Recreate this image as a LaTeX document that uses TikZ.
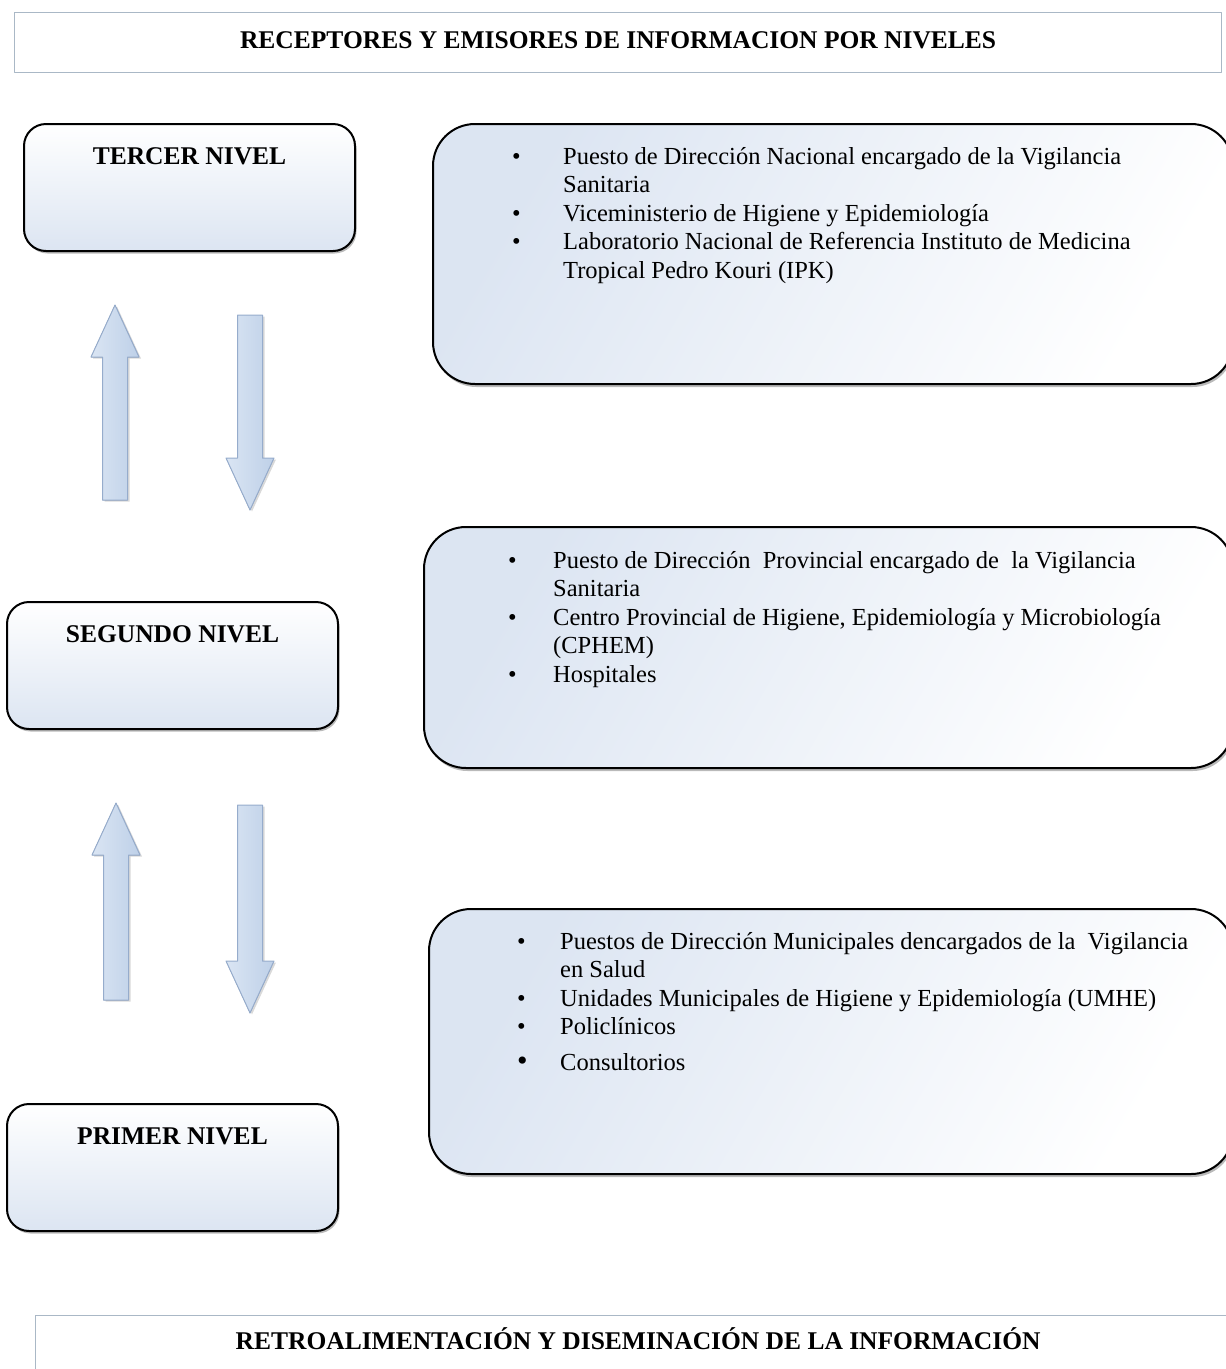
\documentclass[tikz,border=0pt]{standalone}
\usepackage{fontspec}
\setmainfont{Liberation Serif}
\usetikzlibrary{shadows}
\definecolor{boxblue}{RGB}{220,229,242}
\definecolor{arrowblue}{RGB}{190,208,232}
\definecolor{arrowlight}{RGB}{218,229,243}
\definecolor{arrowedge}{RGB}{150,172,204}
\definecolor{titleedge}{RGB}{170,184,198}
\tikzset{
	titlebox/.style={draw=titleedge, line width=1.3pt, fill=white, minimum height=60pt, text height=17pt, inner sep=0pt, font=\fontsize{25.5}{30}\selectfont\bfseries},
	levelbox/.style={draw=black, line width=2pt, rounded corners=22pt, top color=white, bottom color=boxblue, minimum width=331pt, text height=17pt, text depth=64pt, inner ysep=23pt, anchor=north west, font=\fontsize{25.5}{30}\selectfont\bfseries, drop shadow={shadow xshift=1.5pt, shadow yshift=-2.5pt, opacity=0.45, fill=black!60}},
	infobox/.style={draw=black, line width=2pt, rounded corners=42pt, left color=boxblue, right color=white, shading angle=60, anchor=north west, inner sep=0pt, drop shadow={shadow xshift=1.5pt, shadow yshift=-3pt, opacity=0.45, fill=black!60}},
	infotext/.style={anchor=north west, inner sep=0pt, align=left, font=\fontsize{24.5}{28.5}\selectfont},
	levelarrow/.style={draw=arrowedge, line width=1pt, left color=arrowlight, right color=arrowblue, drop shadow={shadow xshift=2pt, shadow yshift=-1.5pt, opacity=0.3, fill=black!50}},
	flecha/.pic={\filldraw[levelarrow] (0,0) -- (24,52) -- (12.5,52) -- (12.5,#1) -- (-12.5,#1) -- (-12.5,52) -- (-24,52) -- cycle;}
}
\begin{document}
\begin{tikzpicture}[x=1pt,y=-1pt,line join=round]
	\useasboundingbox (0,0) rectangle (1226,1369);
	% titulos
	\node[titlebox, minimum width=1207pt, text depth=5pt, anchor=north west] (titulo) at (14,12) {RECEPTORES Y EMISORES DE INFORMACION POR NIVELES};
	\node[titlebox, minimum width=1205pt, text depth=10pt, anchor=north west] (retro) at (35,1315) {RETROALIMENTACIÓN Y DISEMINACIÓN DE LA INFORMACIÓN};
	% niveles
	\node[levelbox] (tercer) at (23,123) {TERCER NIVEL};
	\node[levelbox] (segundo) at (6,601) {SEGUNDO NIVEL};
	\node[levelbox] (primer) at (6,1103) {PRIMER NIVEL};
	% cajas de informacion
	\node[infobox, minimum width=800pt, minimum height=260pt] (info3) at (432,123) {};
	\node[infobox, minimum width=809pt, minimum height=241pt] (info2) at (423,526) {};
	\node[infobox, minimum width=804pt, minimum height=265pt] (info1) at (428,908) {};
	\node[infotext] (txt3) at ([xshift=80pt, yshift=-21pt]info3.north west) {\begin{tabular}{@{}p{51pt}@{}l@{}}
		\textbullet & Puesto de Dirección Nacional encargado de la Vigilancia\\
		& Sanitaria\\
		\textbullet & Viceministerio de Higiene y Epidemiología\\
		\textbullet & Laboratorio Nacional de Referencia Instituto de Medicina\\
		& Tropical Pedro Kouri (IPK)
	\end{tabular}};
	\node[infotext] (txt2) at ([xshift=85pt, yshift=-22pt]info2.north west) {\begin{tabular}{@{}p{45pt}@{}l@{}}
		\textbullet & Puesto de Dirección\ \ Provincial encargado de\ \ la Vigilancia\\
		& Sanitaria\\
		\textbullet & Centro Provincial de Higiene, Epidemiología y Microbiología\\
		& (CPHEM)\\
		\textbullet & Hospitales
	\end{tabular}};
	\node[infotext] (txt1) at ([xshift=89pt, yshift=-21pt]info1.north west) {\begin{tabular}{@{}p{43pt}@{}l@{}}
		\textbullet & Puestos de Dirección Municipales dencargados de la\ \ Vigilancia\\
		& en Salud\\
		\textbullet & Unidades Municipales de Higiene y Epidemiología (UMHE)\\
		\textbullet & Policlínicos\\[7pt]
		{\fontsize{30}{28.5}\selectfont\textbullet} & Consultorios
	\end{tabular}};
	% flechas entre niveles
	\pic at (115,305) {flecha=195};
	\pic[rotate=180] at (250,510) {flecha=195};
	\pic at (116,803) {flecha=197};
	\pic[rotate=180] at (250,1013) {flecha=208};
\end{tikzpicture}
\end{document}
